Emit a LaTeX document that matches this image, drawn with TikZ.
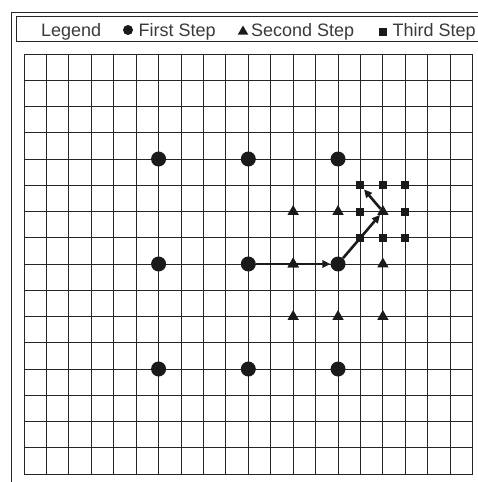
\documentclass[tikz,border=0pt]{standalone}
\usepackage{fontspec}
\setmainfont{Liberation Sans}
\usepackage{xcolor}
\usetikzlibrary{arrows.meta, shapes.geometric, positioning}

\definecolor{inkdark}{HTML}{1A1A1A}
\definecolor{framegray}{HTML}{262626}
\definecolor{textgray}{HTML}{3A3A3A}

\begin{document}
\begin{tikzpicture}[x=1pt, y=-1pt,
    firststep/.style={circle, fill=inkdark, inner sep=0pt, minimum size=15pt},
    secondstep/.style={regular polygon, regular polygon sides=3, fill=inkdark, inner sep=0pt, minimum size=13pt},
    thirdstep/.style={rectangle, fill=inkdark, inner sep=0pt, minimum size=8pt},
    gridline/.style={line width=1pt, draw=framegray},
    steparrow/.style={line width=2.6pt, draw=inkdark, -{Triangle[length=8pt, width=7.5pt]}},
    legendtext/.style={anchor=base west, inner sep=0pt, text=textgray, font=\fontsize{18}{21}\selectfont}]

    \useasboundingbox (0,0) rectangle (477,482);

    % =================================================================
    % 1. KHUNG NGOÀI VÀ HỘP CHÚ THÍCH
    % =================================================================
    \coordinate (FrameBottom) at (11,495);
    \coordinate (FrameCorner) at (11,12);
    \coordinate (FrameRight) at (495,12);
    \draw[gridline] (FrameBottom) -- (FrameCorner) -- (FrameRight);

    \coordinate (LegendTopRight) at (495,16);
    \coordinate (LegendTopLeft) at (16,16);
    \coordinate (LegendBotLeft) at (16,41);
    \coordinate (LegendBotRight) at (495,41);
    \draw[gridline] (LegendTopRight) -- (LegendTopLeft) -- (LegendBotLeft) -- (LegendBotRight);

    % Ký hiệu và nhãn trong chú thích
    \node[legendtext] (LegendTitle) at (41,36) {Legend};
    \node[firststep, minimum size=10pt] (LegendDot) at (128,30) {};
    \node[legendtext] (LegendFirst) at (138.5,36) {First Step};
    \node[secondstep, minimum size=12pt] (LegendTri) at (243,31.5) {};
    \node[legendtext] (LegendSecond) at (251,36) {Second Step};
    \node[thirdstep] (LegendSquare) at (382.5,31.5) {};
    \node[legendtext] (LegendThird) at (392.5,36) {Third Step};

    % =================================================================
    % 2. LƯỚI Ô VUÔNG (20 CỘT x 16 HÀNG)
    % =================================================================
    \begin{scope}[shift={(24,54)}, x=22.43pt, y=-26.25pt]
        \foreach \c in {0,...,20} {
            \draw[gridline] (\c,0) -- (\c,16);
        }
        \foreach \r in {0,...,16} {
            \draw[gridline] (0,\r) -- (20,\r);
        }

        % =============================================================
        % 3. CÁC ĐIỂM CỦA TỪNG BƯỚC
        % =============================================================
        % Bước 1: lưới thưa, bước nhảy 4 ô
        \foreach \c in {6,10,14} {
            \foreach \r in {4,8,12} {
                \node[firststep] (F-\c-\r) at (\c,\r) {};
            }
        }
        % Bước 2: quanh điểm (14,8), bước nhảy 2 ô
        \foreach \c/\r in {12/6, 14/6, 16/6, 12/8, 16/8, 12/10, 14/10, 16/10} {
            \node[secondstep] (S-\c-\r) at (\c,\r) {};
        }
        % Bước 3: quanh điểm (16,6), bước nhảy 1 ô
        \foreach \c/\r in {15/5, 16/5, 17/5, 15/6, 17/6, 15/7, 16/7, 17/7} {
            \node[thirdstep] (T-\c-\r) at (\c,\r) {};
        }

        % =============================================================
        % 4. ĐƯỜNG ĐI TÌM KIẾM
        % =============================================================
        \draw[steparrow] (F-10-8) -- (F-14-8);
        \draw[steparrow] (F-14-8) -- (S-16-6);
        \draw[steparrow] (S-16-6) -- (T-15-5);

        % Vẽ lại tam giác nằm trên đường đi
        \node[secondstep] at (S-12-8) {};
    \end{scope}

\end{tikzpicture}
\end{document}
